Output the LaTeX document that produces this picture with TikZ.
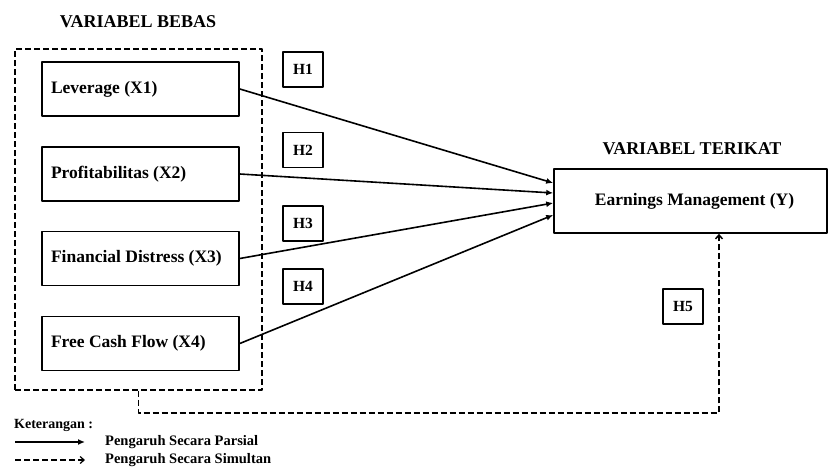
\documentclass[tikz,border=0pt]{standalone}
\usepackage{fontspec}
\setmainfont{Liberation Serif}
\usetikzlibrary{arrows.meta,positioning,calc}
\tikzset{
  varbox/.style={draw,line width=1.6pt,text width=179pt,inner xsep=9pt,inner ysep=0pt,
    minimum height=54pt,align=flush left,font=\fontsize{17.5}{20}\selectfont\bfseries},
  hbox/.style={draw,line width=1.6pt,minimum width=40pt,minimum height=35pt,inner sep=0pt,
    font=\fontsize{15.5}{18}\selectfont\bfseries},
  heading/.style={font=\fontsize{18}{21}\selectfont\bfseries},
  legend/.style={anchor=west,inner sep=0pt,font=\fontsize{14.5}{17}\selectfont\bfseries},
  partial/.style={line width=1.6pt,-{Latex[length=7pt,width=6pt]}},
  simul/.style={line width=1.5pt,dash pattern=on 6pt off 3pt,-{Straight Barb[length=4pt,width=7pt]}},
}

\begin{document}
\begin{tikzpicture}[x=1pt,y=-1pt,line join=round]
\useasboundingbox (0,0) rectangle (830,471);
% variabel bebas
\node[heading] (hbebas) at (138,22) {VARIABEL BEBAS};
\node[draw,line width=1.5pt,dash pattern=on 6pt off 3pt,minimum width=247pt,minimum height=341pt] (bebas) at (138.5,219.5) {};
\node[varbox] (X1) at (140.5,89)    {Leverage (X1)};
\node[varbox] (X2) at (140.5,174)   {Profitabilitas (X2)};
\node[varbox] (X3) at (140.5,258.5) {Financial Distress (X3)};
\node[varbox] (X4) at (140.5,343.5) {Free Cash Flow (X4)};
% variabel terikat
\node[heading] (hterikat) at (692,149) {VARIABEL TERIKAT};
\node[draw,line width=1.6pt,minimum width=273pt,minimum height=64pt,inner sep=0pt,
  font=\fontsize{17.5}{20}\selectfont\bfseries] (Y) at (690.5,201) {\hspace{8pt}Earnings Management (Y)};
% hipotesis
\node[hbox] (H1) at (303,69.5)  {H1};
\node[hbox] (H2) at (303,150)   {H2};
\node[hbox] (H3) at (303,223.5) {H3};
\node[hbox] (H4) at (303,286.5) {H4};
\node[hbox] (H5) at (683,306.5) {H5};
% pengaruh parsial
\foreach \i/\s in {1/18,2/8,3/-2,4/-14}
  \draw[partial] (X\i.east) -- ([yshift=\s pt]Y.west);
% pengaruh simultan
\draw[simul] (bebas.south) -- ++(0,22) -| ([xshift=28.5pt]Y.south);
% keterangan
\node[legend,font=\fontsize{14}{17}\selectfont\bfseries] (ket) at (14,425) {Keterangan :};
\node[legend] (parsial) at (105,442) {Pengaruh Secara Parsial};
\node[legend] (simultan) at (105,460) {Pengaruh Secara Simultan};
\coordinate (lp) at (15,442);
\coordinate (ls) at (15,460);
\draw[partial,line width=1.3pt] (lp) -- ([xshift=-20pt]parsial.west);
\draw[simul,line width=1.2pt] (ls) -- ([xshift=-20pt]simultan.west);
\end{tikzpicture}
\end{document}
